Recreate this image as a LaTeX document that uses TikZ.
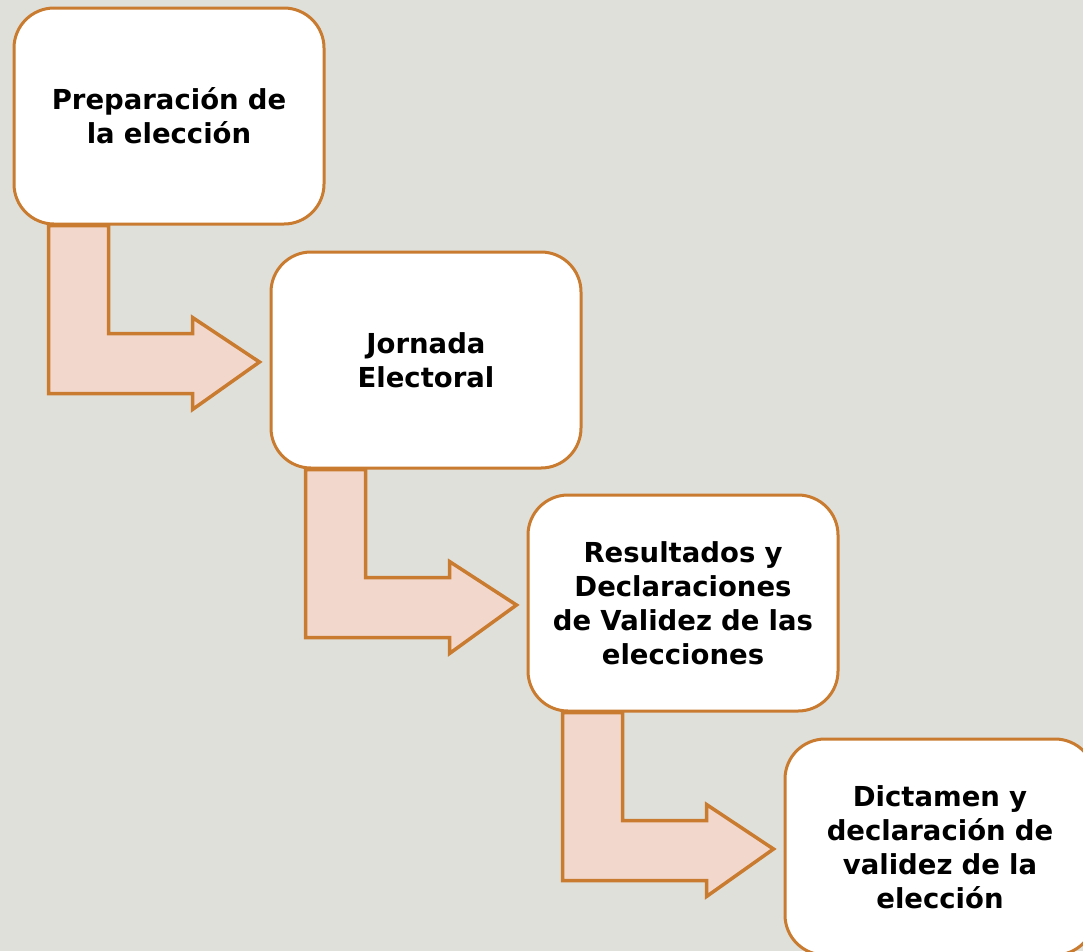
\documentclass[tikz,border=0pt]{standalone}
\usepackage{fontspec}
\setmainfont{DejaVu Sans}
\usetikzlibrary{calc}
\pgfdeclarelayer{back}
\pgfdeclarelayer{arrows}
\pgfsetlayers{back,arrows,main}
\definecolor{bggray}{HTML}{E0E0DA}
\definecolor{boxline}{HTML}{C97B30}
\definecolor{arrowfill}{HTML}{F2D8CC}
\begin{document}
\begin{tikzpicture}[x=1pt, y=-1pt,
    stage/.style={rectangle, draw=boxline, line width=3pt, fill=white,
        rounded corners=40pt, minimum width=310pt, minimum height=216pt,
        text width=290pt, align=center, font=\fontsize{27.5}{34}\selectfont\bfseries},
    bentarrow/.style={draw=boxline, line width=3.5pt, fill=arrowfill, line join=miter}]

    \useasboundingbox (0,0) rectangle (1083,951);
    \begin{pgfonlayer}{back}
        \fill[bggray] (0,0) rectangle (1083,951);
    \end{pgfonlayer}
    \clip (0,0) rectangle (1083,951);

    % stages
    \node[stage] (prep) at (169,116) {Preparación de\\la elección};
    \node[stage] (jornada) at (426,360) {Jornada\\Electoral};
    \node[stage] (result) at (683,603) {Resultados y\\Declaraciones\\de Validez de las\\elecciones};
    \node[stage] (dict) at (940,847) {Dictamen y\\declaración de\\validez de la\\elección};

    % bent arrows between stages
    \begin{pgfonlayer}{arrows}
        \foreach \a/\b in {prep/jornada, result/dict, jornada/result} {
            \draw[bentarrow] ($(\a.south west)+(36,0)$) -- ++(0,168) -- ++(144,0)
                -- ++(0,16) -- ($(\b.west)+(-10,2)$) -- ($(\a.south west)+(180,92)$)
                -- ++(0,16) -- ++(-84,0) -- ++(0,-108) -- cycle;
        }
    \end{pgfonlayer}

\end{tikzpicture}
\end{document}
